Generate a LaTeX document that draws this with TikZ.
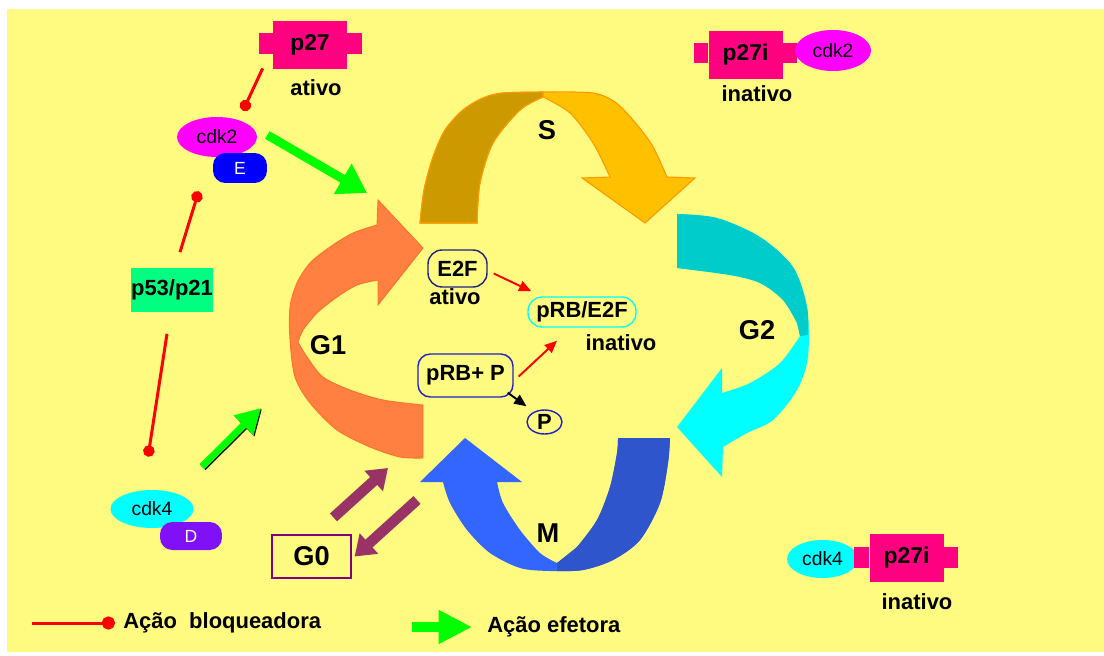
\documentclass[tikz,border=0pt]{standalone}
\usepackage{fontspec}
\setmainfont{Liberation Sans}
\usetikzlibrary{shapes.geometric,arrows.meta,calc}
\definecolor{bgyellow}{HTML}{FFFA80}
\definecolor{pinkp}{HTML}{FF0080}
\definecolor{cdkmag}{HTML}{FF00FF}
\definecolor{eblue}{HTML}{0000FF}
\definecolor{p53green}{HTML}{00FF80}
\definecolor{dviolet}{HTML}{8010F8}
\definecolor{g0purple}{HTML}{800080}
\definecolor{maroon}{HTML}{993366}
\definecolor{sdark}{HTML}{CC9900}
\definecolor{slight}{HTML}{FFC000}
\definecolor{sorange}{HTML}{FF9900}
\definecolor{g2dark}{HTML}{00CCCC}
\definecolor{g2light}{HTML}{00FFFF}
\definecolor{mdark}{HTML}{2F55CC}
\definecolor{mlight}{HTML}{3366FF}
\definecolor{g1orange}{HTML}{FF8040}
\definecolor{g1edge}{HTML}{FF7028}
\definecolor{navyb}{HTML}{202080}
\definecolor{blueb}{HTML}{2020C8}
\definecolor{effgreen}{HTML}{00FF00}
\begin{document}
\begin{tikzpicture}[x=0.02cm,y=-0.02cm,
  lbl/.style={font=\bfseries\fontsize{12.5}{14}\selectfont, inner sep=0pt},
  phase/.style={font=\bfseries\fontsize{15.5}{17}\selectfont, inner sep=0pt},
  cdk/.style={ellipse, inner sep=0pt, font=\fontsize{11}{13}\selectfont},
  sub/.style={rounded corners=7pt, inner sep=0pt, text=white, font=\fontsize{10}{12}\selectfont},
  pbox/.style={fill=pinkp, inner sep=0pt, minimum width=1.48cm, minimum height=0.96cm, font=\bfseries\fontsize{13}{15}\selectfont},
  inhib/.style={draw=red, line width=1.7pt, -{Circle[length=6.5pt]}},
  effect/.style={draw=effgreen, line width=5pt, -{Triangle[length=16pt,width=19pt]}},
  effect2/.style={draw=effgreen, line width=4pt, -{Triangle[length=14pt,width=15pt]}},
  phasearrow/.style={draw=maroon, line width=6pt, -{Triangle[length=11pt,width=15pt]}},
  redarrow/.style={draw=red, line width=1.1pt, -{Triangle[length=7pt,width=6pt]}}]
\useasboundingbox (0,0) rectangle (1104,655);
\fill[white] (0,0) rectangle (1104,655);
\fill[bgyellow] (7,9) rectangle (1104,652);

% S
\filldraw[fill=slight, draw=sorange, line width=0.6pt]
  plot[smooth] coordinates {(420,223) (424,190) (433,157) (445,130) (463,110) (483,98) (503,93) (548,92) (593,93) (615,102) (633,120) (652,145) (667,177)}
  -- (695,178) -- (645,223) -- (582,178) -- (610,177)
  -- plot[smooth] coordinates {(610,177) (593,143) (570,113) (543,97)}
  -- plot[smooth] coordinates {(543,97) (520,110) (493,143) (480,183) (477,223)} -- cycle;
\filldraw[fill=sdark, draw=sorange, line width=0.6pt]
  plot[smooth] coordinates {(420,223) (424,190) (433,157) (445,130) (463,110) (483,98) (503,93) (543,92)}
  -- plot[smooth] coordinates {(543,97) (520,110) (493,143) (480,183) (477,223)} -- cycle;
% G2
\fill[g2light]
  plot[smooth] coordinates {(677,214) (717,218) (760,237) (793,267) (807,307) (808,357) (797,390) (773,420) (747,433) (723,447)}
  -- (722,477) -- (677,427) -- (722,368)
  -- plot[smooth] coordinates {(722,393) (750,383) (780,363) (800,336)}
  -- plot[smooth] coordinates {(800,336) (797,323) (783,300) (760,283) (730,275) (677,268)} -- cycle;
\fill[g2dark]
  plot[smooth] coordinates {(677,214) (717,218) (760,237) (793,267) (807,307) (808,335)}
  -- (800,336) -- plot[smooth] coordinates {(797,323) (783,300) (760,283) (730,275) (677,268)} -- cycle;
% M
\fill[mlight]
  plot[smooth] coordinates {(670,438) (668,463) (660,503) (640,540) (613,560) (583,570) (550,571) (520,568) (490,553) (467,530) (450,503) (443,482)}
  -- (420,482) -- (465,438) -- (522,482) -- (497,482)
  -- plot[smooth] coordinates {(497,482) (503,503) (520,530) (540,553) (557,563)}
  -- plot[smooth] coordinates {(557,563) (577,547) (597,520) (610,487) (617,453) (618,438)} -- cycle;
\fill[mdark]
  plot[smooth] coordinates {(670,438) (668,463) (660,503) (640,540) (613,560) (583,570) (557,571)}
  -- (557,563) -- plot[smooth] coordinates {(577,547) (597,520) (610,487) (617,453) (618,438)} -- cycle;
% G1
\filldraw[fill=g1orange, draw=g1edge, line width=0.5pt]
  plot[smooth] coordinates {(423,458) (400,457) (370,447) (337,430) (310,403) (295,377) (290,340) (290,307) (297,283) (310,263) (330,247) (353,233) (377,225)}
  -- (378,200) -- (423,248) -- (378,305) -- (378,280)
  -- plot[smooth] coordinates {(378,280) (357,285) (337,297) (317,313) (303,330) (298,342)}
  -- plot[smooth] coordinates {(298,342) (307,357) (323,377) (350,390) (383,400) (423,405)} -- cycle;

\node[phase] (Slbl) at (547,130) {S};
\node[phase] (G1lbl) at (328,345) {G1};
\node[phase] (G2lbl) at (757,330) {G2};
\node[phase] (Mlbl) at (548,533) {M};

% left side
\node[pbox] (p27) at (310,45) {p27};
\fill[pinkp] ($(p27.west)+(-14,-12)$) rectangle ($(p27.west)+(0,9)$);
\fill[pinkp] ($(p27.east)+(0,-12)$) rectangle ($(p27.east)+(15,9)$);
\node[lbl] (p27txt) at (316,88) {ativo};
\node[cdk, fill=cdkmag, minimum width=1.6cm, minimum height=0.8cm] (cdk2) at (217,137) {cdk2};
\node[sub, fill=eblue, minimum width=1.08cm, minimum height=0.6cm] (E) at (240,168) {E};
\node[lbl, fill=p53green, minimum width=1.48cm, minimum height=0.9cm] (p53) at (172,290) {p53/p21};
\node[cdk, fill=g2light, minimum width=1.66cm, minimum height=0.76cm] (cdk4) at (152,509) {cdk4};
\node[sub, fill=dviolet, minimum width=1.24cm, minimum height=0.56cm] (D) at (191,536) {D};
\node[phase, draw=g0purple, line width=0.7pt, minimum width=1.58cm, minimum height=0.86cm] (G0) at (311.5,556.5) {G0};

% right side
\node[pbox] (p27i) at (745.5,55) {p27i};
\fill[pinkp] ($(p27i.west)+(-14,-12)$) rectangle ($(p27i.west)+(0,8)$);
\fill[pinkp] ($(p27i.east)+(0,-12)$) rectangle ($(p27i.east)+(14,8)$);
\node[lbl] (p27itxt) at (757,94) {inativo};
\node[cdk, fill=cdkmag, minimum width=1.52cm, minimum height=0.82cm] (cdk2i) at (833,50.5) {cdk2};
\node[cdk, fill=g2light, minimum width=1.42cm, minimum height=0.76cm] (cdk4i) at (822.5,559) {cdk4};
\node[pbox] (p27ib) at (906.5,558) {p27i};
\fill[pinkp] ($(p27ib.west)+(-15,-11)$) rectangle ($(p27ib.west)+(0,10)$);
\fill[pinkp] ($(p27ib.east)+(0,-11)$) rectangle ($(p27ib.east)+(14,10)$);
\node[lbl] (p27ibtxt) at (917,602) {inativo};

% centre
\node[lbl, draw=navyb, line width=0.8pt, rounded corners=8pt, minimum width=1.18cm, minimum height=0.74cm] (E2F) at (457.5,268.5) {E2F};
\node[lbl] (E2Ftxt) at (455,297) {ativo};
\node[lbl, draw=g2light, line width=0.8pt, rounded corners=8pt, minimum width=2.16cm, minimum height=0.6cm] (pRBE2F) at (582,312) {pRB/E2F};
\node[lbl] (pRBE2Ftxt) at (621,343) {inativo};
\node[lbl, draw=blueb, line width=0.8pt, rounded corners=7pt, minimum width=1.9cm, minimum height=0.86cm] (pRBP) at (465.5,375.5) {pRB+ P};
\node[lbl, ellipse, draw=blueb, line width=0.8pt, minimum width=0.7cm, minimum height=0.48cm] (P) at (544.5,422) {P};

\coordinate (sentry) at (367,193);
\coordinate (g1entry) at (261,408);
\coordinate (g1foot) at (388,468);
\coordinate (mfoot) at (417,500);

\draw[inhib] ($(p27.south west)+(-10,-1)$) -- ($(cdk2.north)+(26,-6)$);
\draw[inhib] ($(p53.north)+(8,-15)$) -- ($(E.south west)+(-14,8)$);
\draw[inhib] ($(p53.south)+(-5,21)$) -- ($(cdk4.north)+(-4,-33)$);
\draw[effect] ($(cdk2.east)+(10,-2)$) -- (sentry);
\draw[effect2, draw=black] ($(cdk4.north)+(51,-22)$) -- ($(g1entry)+(1,1)$);
\draw[effect2] ($(cdk4.north)+(50,-23)$) -- (g1entry);
\draw[phasearrow] ($(G0.north)+(22,-17)$) -- (g1foot);
\draw[phasearrow] (mfoot) -- ($(G0.east)+(3,0)$);
\draw[redarrow] ($(E2F.east)+(6,5)$) -- ($(pRBE2F.north west)+(4,-5)$);
\draw[redarrow] ($(pRBP.east)+(5,1)$) -- ($(pRBE2F.south)+(-25,13)$);
\draw[redarrow, draw=black] ($(pRBP.south east)+(-6,-5)$) -- ($(P.north)+(-18,-3)$);

% legend
\coordinate (legblk) at (32,623);
\node[lbl, anchor=west] (leginh) at (123,623) {Ação\ \ bloqueadora};
\draw[inhib, -{Circle[length=7.5pt]}] (legblk) -- ($(leginh.west)+(-8,0)$);
\coordinate (legeff) at (412,627);
\node[lbl, anchor=west] (legefftxt) at (487,627) {Ação efetora};
\draw[effect, line width=5.5pt, -{Triangle[length=19pt,width=18pt]}] (legeff) -- ($(legefftxt.west)+(-15,0)$);
\end{tikzpicture}
\end{document}
